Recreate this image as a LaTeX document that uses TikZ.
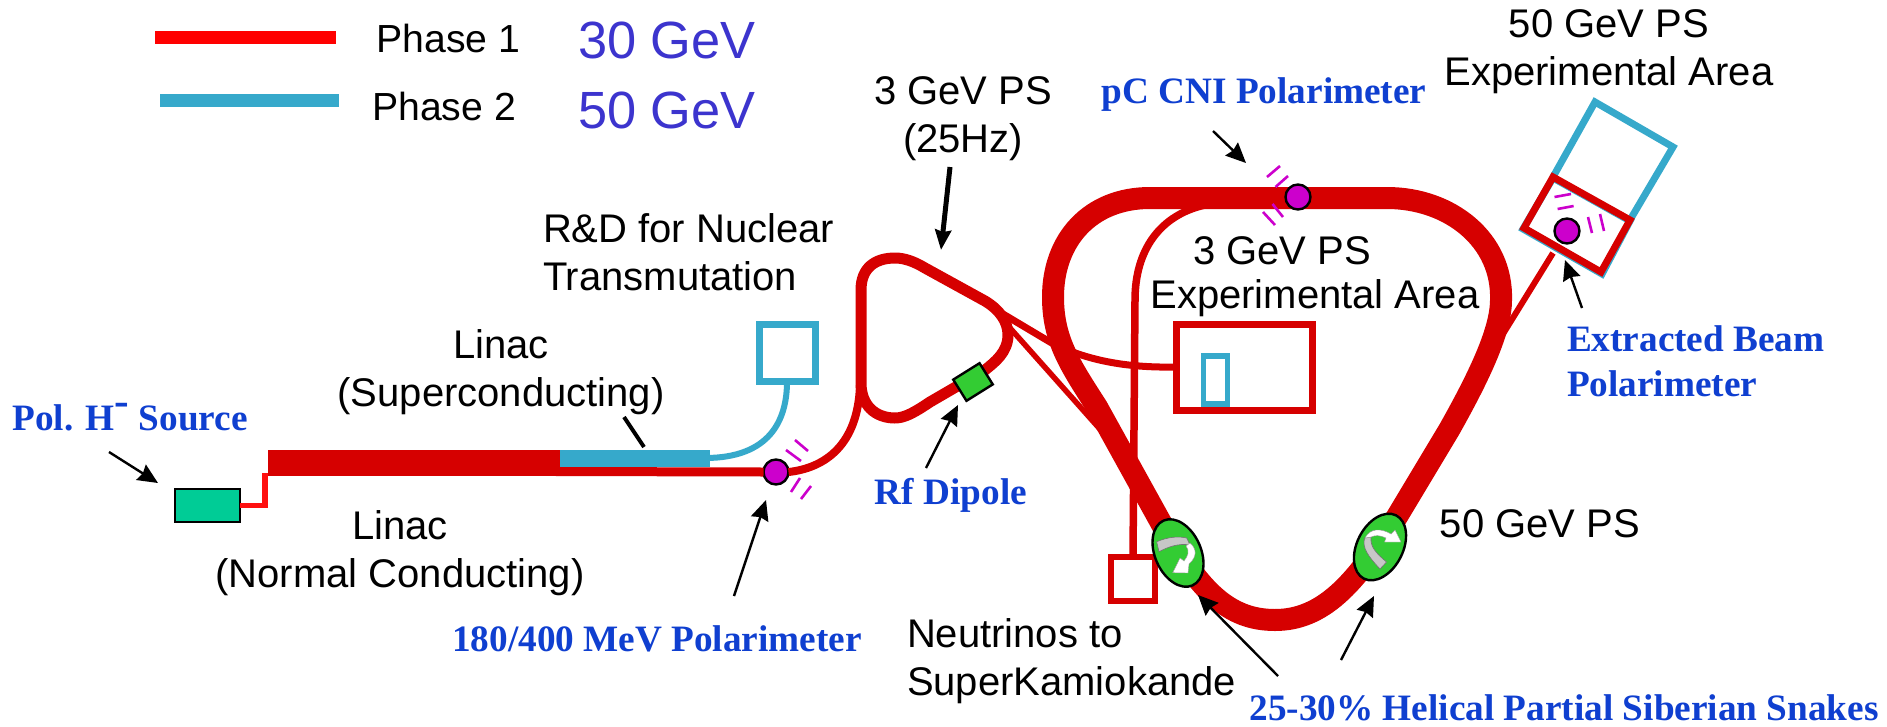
\documentclass[tikz,border=0pt]{standalone}
\usepackage{fontspec}
\setmainfont{Liberation Sans}
\newfontfamily\serifb[BoldFont={Liberation Serif Bold}]{Liberation Serif}
\usetikzlibrary{arrows.meta,shapes.geometric}
\definecolor{bred}{HTML}{D60000}
\definecolor{lead}{HTML}{FF1010}
\definecolor{bblue}{HTML}{36A9CB}
\definecolor{lblue}{HTML}{0F3FD0}
\definecolor{evblue}{HTML}{3C34CE}
\definecolor{srcgreen}{HTML}{00CC96}
\definecolor{snakegreen}{HTML}{33CC33}
\definecolor{polm}{HTML}{CC00CC}
\def\px{0.02cm}
\newcommand{\blk}{\fontsize{22.76}{27.3}\selectfont}
\newcommand{\bluelab}{\serifb\bfseries\fontsize{21.2}{25.6}\selectfont\color{lblue}}
\tikzset{
  x=0.02cm,y=-0.02cm,
  beamred/.style={draw=bred,line width=#1*\px,line cap=butt,line join=round},
  beamblue/.style={draw=bblue,line width=#1*\px,line cap=butt,line join=miter},
  txt/.style={font=\blk,text=black,inner sep=0pt,outer sep=0pt},
  bluetxt/.style={font=\bluelab,inner sep=0pt,outer sep=0pt},
  evtxt/.style={font=\fontsize{29.8}{34}\selectfont,text=evblue,inner sep=0pt},
  ptr/.style={draw=black,line width=2.4*\px,-{Stealth[length=20*\px,width=18*\px,inset=2*\px]}},
  tick/.style={draw=polm,line width=2.6*\px},
  polar/.style={ellipse,draw=black,line width=2.4*\px,fill=polm,minimum width=25*\px,minimum height=25*\px,inner sep=0pt,outer sep=0pt},
  snake/.style={ellipse,draw=black,line width=2.4*\px,fill=snakegreen,minimum width=71*\px,minimum height=46*\px,inner sep=0pt,outer sep=0pt},
  redbox/.style={rectangle,draw=bred,line width=#1*\px,fill=none,inner sep=0pt,outer sep=0pt},
  bluebox/.style={rectangle,draw=bblue,line width=#1*\px,fill=none,inner sep=0pt,outer sep=0pt},
  snkgray/.style={fill=black!22,draw=black!55,line width=0.6*\px},
  snkwhite/.style={fill=white,draw=black!40,line width=0.4*\px},
}
\begin{document}
\begin{tikzpicture}
\useasboundingbox (0,0) rectangle (1887,727);
\fill[white] (0,0) rectangle (1887,727);

% legend
\coordinate (l1a) at (155,37.5); \coordinate (l1b) at (336,37.5);
\coordinate (l2a) at (160,100.5); \coordinate (l2b) at (339,100.5);
\draw[beamred=13,draw=red] (l1a) -- (l1b);
\draw[beamblue=13] (l2a) -- (l2b);
\node[txt,font=\fontsize{22.3}{26}\selectfont] (ph1) at (448.5,38) {Phase 1};
\node[txt,font=\fontsize{22.3}{26}\selectfont] (ph2) at (444,106) {Phase 2};
\node[evtxt] (e30) at (667,40) {30 GeV};
\node[evtxt] (e50) at (667,110) {50 GeV};

% R&D beamline
\node[bluebox=7,minimum width=56*\px,minimum height=57*\px] (rd) at (787,353) {};
\coordinate (sc) at (705,458);
\draw[beamblue=6] (rd.south) .. controls (787,420) and (770,458) .. (sc);

% linac
\node[rectangle,fill=bred,minimum width=292*\px,minimum height=26*\px,inner sep=0pt,outer sep=0pt] (nc) at (414,463) {};
\node[rectangle,fill=bblue,minimum width=150*\px,minimum height=17*\px,inner sep=0pt,outer sep=0pt] (scl) at (635,458.5) {};
\node[rectangle,draw=black,line width=2.4*\px,fill=srcgreen,minimum width=65*\px,minimum height=33*\px,inner sep=0pt,outer sep=0pt] (src) at (207.5,505.5) {};
\draw[draw=lead,line width=5.5*\px] (src.east) -| (265,473);
\coordinate (nce) at (556,471.5);

% 3 GeV experimental area branch, neutrino branch (under ring)
\node[redbox=7,minimum width=136*\px,minimum height=86*\px] (a3) at (1244,367) {};
\node[bluebox=5.5,minimum width=24*\px,minimum height=48*\px] (a3b) at (1215.5,380) {};
\node[redbox=5.5,minimum width=44*\px,minimum height=44*\px] (nu) at (1133,579) {};
\coordinate (lx) at (1003,314);
\draw[beamred=7] (lx) -- (1050,342) .. controls (1085,360) and (1125,368) .. (a3.west);
\draw[beamred=7.5] (nu.north) -- (1135,300) .. controls (1135,250) and (1160,215) .. (1205,205);
\draw[beamred=5.5] (1010,328) -- (1115,446);

% injection
\node[polar] (p1) at (776,472) {};
\draw[beamred=9] (nce) -- (p1.west);
\draw[beamred=8] (p1.east) .. controls (825,468) and (858,445) .. (860,385);

% 3 GeV ring
\draw[beamred=11] (861,383) -- (861,290) .. controls (861,268) and (875,258) .. (895,258)
  .. controls (905,258) and (915,262) .. (925,268) -- (985,301)
  .. controls (1000,310) and (1008,322) .. (1008,335)
  .. controls (1008,352) and (995,362) .. (985,370) -- (930,402)
  .. controls (915,412) and (905,418) .. (895,418)
  .. controls (875,418) and (861,405) .. (861,383) -- cycle;
\node[rectangle,draw=black,line width=2.4*\px,fill=snakegreen,minimum width=31*\px,minimum height=25*\px,rotate=32,inner sep=0pt,outer sep=0pt] (rf) at (973,382) {};

% 50 GeV ring
\draw[beamred=22] (1150,198) -- (1387,198) .. controls (1450,198) and (1503,240) .. (1501,300)
  .. controls (1501,330) and (1480,375) .. (1449,430) -- (1395,520)
  .. controls (1355,585) and (1322,620) .. (1275,620)
  .. controls (1228,620) and (1200,590) .. (1165,530) -- (1097,407)
  .. controls (1070,365) and (1053,340) .. (1053,297)
  .. controls (1053,240) and (1090,198) .. (1150,198) -- cycle;

% 50 GeV experimental area
\draw[beamblue=7] (1553,177) -- (1595,102) -- (1673,147) -- (1630,220);
\draw[beamblue=7] (1553,178) -- (1630,221) -- (1602,274) -- (1523,229) -- cycle;
\draw[beamred=7,line join=miter] (1553,177) -- (1630,220) -- (1601,272) -- (1524,228) -- cycle;
\node[polar] (p3) at (1567,231) {};
\coordinate (ex) at (1498,342);
\draw[beamred=6] (1553,253) -- (ex);

% polarimeter on the ring
\node[polar] (p2) at (1298,197) {};

% snakes
\node[snake,rotate=-66] (s1) at (1178,553) {};
\node[snake,rotate=63] (s2) at (1380,547) {};
\draw[snkgray] (1156.7,541.7) .. controls (1168,537) and (1178,536) .. (1186.7,538) -- (1190,545) .. controls (1178,543) and (1168,547) .. (1159,551.7) -- cycle;
\draw[snkwhite] (1190,543) .. controls (1196,548) and (1198,556) .. (1189,564) -- (1188,573) -- (1172.7,572.7) -- (1180,558) -- (1184,561) .. controls (1188,556) and (1190,551) .. (1186,546) -- cycle;
\draw[snkgray] (1380,569) .. controls (1368,556) and (1362,548) .. (1364.6,538) -- (1371,537) .. controls (1370,547) and (1376,553) .. (1386.5,562) -- cycle;
\draw[snkwhite] (1365,538) .. controls (1370,528) and (1381,528) .. (1391,534) -- (1395,530) -- (1401,542) -- (1384.5,542) -- (1386,538) .. controls (1380,535) and (1375,535) .. (1371,537) -- cycle;

% ticks
\draw[tick] (1267,177) -- (1280,166);
\draw[tick] (1275.5,187) -- (1288,176);
\draw[tick] (1272.5,204) -- (1283,217);
\draw[tick] (1263,212) -- (1275,225);
\draw[tick] (1554.5,197) -- (1571,194);
\draw[tick] (1557.6,209) -- (1573.6,206);
\draw[tick] (1588,217) -- (1592,233);
\draw[tick] (1600,214) -- (1604,231);
\draw[tick] (795,440) -- (808,451);
\draw[tick] (786,450) -- (801,461);
\draw[tick] (800,478) -- (791,492);
\draw[tick] (811,486) -- (801,499);

% black texts
\node[txt,align=center] (tsc) at (501,372) {Linac\\(Superconducting)};
\node[txt,align=center] (tnc) at (400,553) {Linac\\(Normal Conducting)};
\node[txt,align=left,anchor=west] (trd) at (543,252) {R\&D for Nuclear\\Transmutation};
\node[txt,align=center] (t3g) at (963,119) {3 GeV PS\\(25Hz)};
\node[txt] (t3a) at (1282,251) {3 GeV PS};
\node[txt] (t3b) at (1315,298) {Experimental Area};
\node[txt,align=center] (t50a) at (1609,52) {50 GeV PS\\Experimental Area};
\node[txt,align=left,anchor=west] (tnu) at (907,661) {Neutrinos to\\SuperKamiokande};
\node[txt] (t50) at (1540,524) {50 GeV PS};

% blue texts
\node[bluetxt] (bsrc) at (130,417) {Pol. H\raisebox{0.42em}{\fontsize{25}{25}\selectfont -} Source};
\node[bluetxt] (b180) at (657,639) {180/400 MeV Polarimeter};
\node[bluetxt] (brf) at (951,495) {Rf Dipole};
\node[bluetxt] (bpc) at (1264,95) {pC CNI Polarimeter};
\node[bluetxt,align=left,anchor=west] (bex) at (1567,361) {Extracted Beam\\Polarimeter};
\node[bluetxt] (bsn) at (1564,708) {25-30\% Helical Partial Siberian Snakes};

% pointers
\coordinate (a1) at (109,452); \coordinate (a1t) at (158,483);
\coordinate (a2) at (734,596); \coordinate (a2t) at (766,500);
\coordinate (a3s) at (926,468); \coordinate (a3t) at (958,405);
\coordinate (a4) at (1213,131); \coordinate (a4t) at (1246,163);
\coordinate (a5) at (1582,308); \coordinate (a5t) at (1565,260);
\coordinate (a6) at (1278,676); \coordinate (a6t) at (1198,595);
\coordinate (a7) at (1341,660); \coordinate (a7t) at (1374,596);
\coordinate (a8) at (950,167); \coordinate (a8t) at (941,250);
\coordinate (a9) at (624,417); \coordinate (a9t) at (644,447);
\draw[ptr] (a1) -- (a1t);
\draw[ptr] (a2) -- (a2t);
\draw[ptr] (a3s) -- (a3t);
\draw[ptr] (a4) -- (a4t);
\draw[ptr] (a5) -- (a5t);
\draw[ptr] (a6) -- (a6t);
\draw[ptr] (a7) -- (a7t);
\draw[ptr,line width=5*\px,-{Stealth[length=20*\px,width=16*\px,inset=2*\px]}] (a8) -- (a8t);
\draw[draw=black,line width=4*\px] (a9) -- (a9t);
\end{tikzpicture}
\end{document}
